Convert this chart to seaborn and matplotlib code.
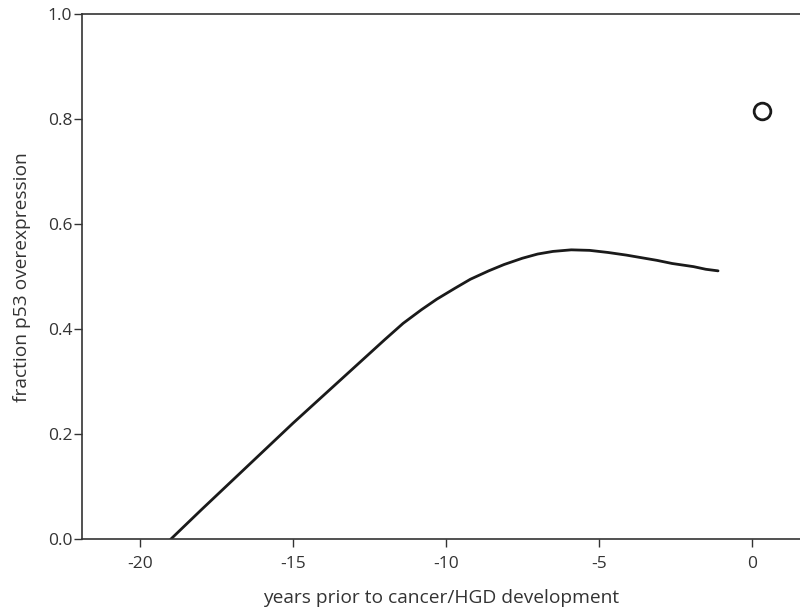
import matplotlib
matplotlib.use("Agg")
import matplotlib.pyplot as plt
import seaborn as sns
import pandas as pd

# Model curve: fraction of p53 overexpression vs. years before cancer/HGD
years = [-19.0, -18.0, -17.0, -16.0, -15.0, -14.0, -13.0, -12.0, -11.4, -10.8,
         -10.3, -9.7, -9.2, -8.6, -8.1, -7.5, -7.0, -6.5, -5.9, -5.3,
         -4.7, -4.1, -3.6, -3.1, -2.6, -1.9, -1.5, -1.1]
fraction = [0.0, 0.056, 0.111, 0.166, 0.221, 0.274, 0.327, 0.380, 0.411, 0.437,
            0.457, 0.478, 0.495, 0.511, 0.523, 0.535, 0.543, 0.548, 0.551, 0.550,
            0.546, 0.541, 0.536, 0.531, 0.525, 0.519, 0.514, 0.511]

# Observed fraction at diagnosis
obs_years = [0.33]
obs_fraction = [0.815]

x_ticks = [-20, -15, -10, -5, 0]
y_ticks = [0.0, 0.2, 0.4, 0.6, 0.8, 1.0]

curve = pd.DataFrame({"years": years, "fraction": fraction})
obs = pd.DataFrame({"years": obs_years, "fraction": obs_fraction})

sns.set_style("ticks")
plt.rcParams["font.family"] = ["Open Sans", "DejaVu Sans"]

ink = "#333333"
fig = plt.figure(figsize=(8.0, 6.11), dpi=100)
ax = fig.add_axes([0.1025, 0.1174, 0.8975, 0.8597])

sns.lineplot(data=curve, x="years", y="fraction", ax=ax, color="#1a1a1a",
             linewidth=2.0, sort=False)
ax.plot(obs["years"], obs["fraction"], linestyle="none", marker="o",
        markersize=12, markerfacecolor="white", markeredgecolor="#1a1a1a",
        markeredgewidth=2.0)

ax.set_xlim(-21.9, 1.58)
ax.set_ylim(0.0, 1.0)
ax.set_xticks(x_ticks)
ax.set_xticklabels([str(v) for v in x_ticks])
ax.set_yticks(y_ticks)
ax.set_yticklabels([f"{v:.1f}" for v in y_ticks])

for side in ("left", "bottom", "top"):
    ax.spines[side].set_color(ink)
    ax.spines[side].set_linewidth(1.2)
ax.spines["right"].set_visible(False)

ax.tick_params(axis="both", direction="out", length=6, width=1.0,
               color=ink, labelcolor=ink, labelsize=12.5)
ax.tick_params(axis="y", pad=1)
ax.tick_params(axis="x", pad=6)

ax.set_xlabel("years prior to cancer/HGD development", fontsize=13.8,
              color=ink, labelpad=12)
ax.set_ylabel("fraction p53 overexpression", fontsize=13.8,
              color=ink, labelpad=12)

fig.savefig("out.png", dpi=100)
